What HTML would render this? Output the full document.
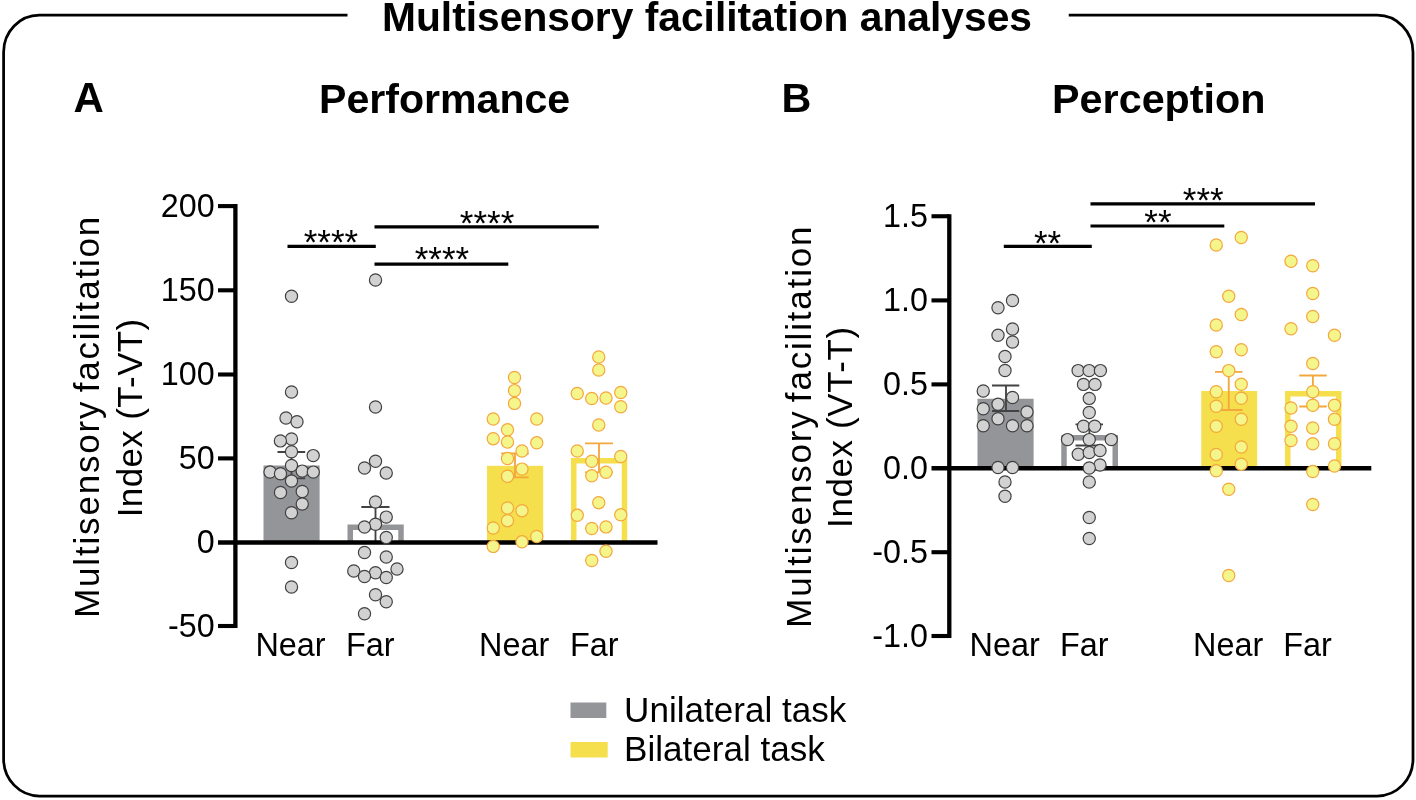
<!DOCTYPE html>
<html lang="en"><head><meta charset="utf-8"><title>Multisensory facilitation analyses</title>
<style>html,body{margin:0;padding:0;background:#fff}body{width:1416px;height:800px;overflow:hidden}svg{display:block;will-change:transform}text{font-family:'Liberation Sans', Arial, Helvetica, sans-serif;fill:#000}</style></head><body>
<svg width="1416" height="800" viewBox="0 0 1416 800">
<rect width="1416" height="800" fill="#fff"/>
<path d="M347.5 15.2 H39.4 A35.8 37.0 0 0 0 3.6 52.2 V759.0 A35.8 37.0 0 0 0 39.4 796.0 H1377.2 A35.8 37.0 0 0 0 1413.0 759.0 V52.2 A35.8 37.0 0 0 0 1377.2 15.2 H1068.75" fill="none" stroke="#000" stroke-width="2.75"/>
<text x="707.0" y="30.8" font-size="40.75" font-weight="bold" text-anchor="middle" >Multisensory facilitation analyses</text>
<text x="88.6" y="112.0" font-size="42" font-weight="bold" text-anchor="middle" >A</text>
<text x="796.4" y="111.6" font-size="41.3" font-weight="bold" text-anchor="middle" >B</text>
<text x="444.6" y="113" font-size="41.1" font-weight="bold" text-anchor="middle" >Performance</text>
<text x="1158.8" y="113" font-size="41.3" font-weight="bold" text-anchor="middle" >Perception</text>
<rect x="263.5" y="465.5" width="56.10" height="77.00" fill="#939598"/>
<path d="M350.25 542.5 V527.25 H401.0 V542.5" fill="none" stroke="#939598" stroke-width="5.5" stroke-linejoin="miter"/>
<rect x="487" y="465.8" width="56.20" height="76.70" fill="#f5df4d"/>
<path d="M573.75 542.5 V460.75 H624.5 V542.5" fill="none" stroke="#f5df4d" stroke-width="5.5" stroke-linejoin="miter"/>
<path d="M291.5 452 V478.4 M277.5 452 H305.2 M277.5 478.4 H305.2" fill="none" stroke="#434344" stroke-width="1.85"/>
<path d="M375.5 507 V542 M361.3 507 H389.5 M361.3 542 H389.5" fill="none" stroke="#434344" stroke-width="1.85"/>
<path d="M515 453.5 V477.4 M501.25 453.5 H528.75 M501.25 477.4 H528.75" fill="none" stroke="#f4a73c" stroke-width="1.85"/>
<path d="M599 443.3 V472.3 M585 443.3 H613 M585 472.3 H613" fill="none" stroke="#f4a73c" stroke-width="1.85"/>
<path d="M235.4 204.1 V628.1" stroke="#000" stroke-width="4.3" fill="none"/>
<path d="M218 206.1 H235.4" stroke="#000" stroke-width="4.1" fill="none"/>
<text x="214.7" y="216.9" font-size="32.3" font-weight="normal" text-anchor="end" >200</text>
<path d="M218 290.3 H235.4" stroke="#000" stroke-width="4.1" fill="none"/>
<text x="214.7" y="301.1" font-size="32.3" font-weight="normal" text-anchor="end" >150</text>
<path d="M218 374.5 H235.4" stroke="#000" stroke-width="4.1" fill="none"/>
<text x="214.7" y="385.3" font-size="32.3" font-weight="normal" text-anchor="end" >100</text>
<path d="M218 458.4 H235.4" stroke="#000" stroke-width="4.1" fill="none"/>
<text x="214.7" y="469.2" font-size="32.3" font-weight="normal" text-anchor="end" >50</text>
<text x="214.7" y="553.3" font-size="32.3" font-weight="normal" text-anchor="end" >0</text>
<path d="M218 626.0 H235.4" stroke="#000" stroke-width="4.1" fill="none"/>
<text x="214.7" y="636.8" font-size="32.3" font-weight="normal" text-anchor="end" >-50</text>
<path d="M218 542.5 H657.5" stroke="#000" stroke-width="4.7" fill="none"/>
<g fill="#d1d2d1" stroke="#404041" stroke-width="1.2">
<circle cx="291.5" cy="296.25" r="6.1"/>
<circle cx="291.5" cy="392" r="6.1"/>
<circle cx="286" cy="418" r="6.1"/>
<circle cx="297" cy="421.75" r="6.1"/>
<circle cx="291.5" cy="439" r="6.1"/>
<circle cx="280.4" cy="440.9" r="6.1"/>
<circle cx="291.5" cy="451.75" r="6.1"/>
<circle cx="313.2" cy="455.6" r="6.1"/>
<circle cx="291.5" cy="465.5" r="6.1"/>
<circle cx="270" cy="472" r="6.1"/>
<circle cx="280.5" cy="473.75" r="6.1"/>
<circle cx="302.2" cy="471.1" r="6.1"/>
<circle cx="313.3" cy="472.1" r="6.1"/>
<circle cx="291.5" cy="481" r="6.1"/>
<circle cx="280.5" cy="492.5" r="6.1"/>
<circle cx="302.25" cy="491.5" r="6.1"/>
<circle cx="302.25" cy="504" r="6.1"/>
<circle cx="291.5" cy="512.75" r="6.1"/>
<circle cx="291.5" cy="562.5" r="6.1"/>
<circle cx="291.5" cy="587" r="6.1"/>
</g>
<g fill="#d1d2d1" stroke="#404041" stroke-width="1.2">
<circle cx="375.5" cy="280" r="6.1"/>
<circle cx="375.5" cy="407" r="6.1"/>
<circle cx="375.5" cy="461.25" r="6.1"/>
<circle cx="364.5" cy="468" r="6.1"/>
<circle cx="386.25" cy="473" r="6.1"/>
<circle cx="375.5" cy="502" r="6.1"/>
<circle cx="386.25" cy="517.1" r="6.1"/>
<circle cx="375.5" cy="524.25" r="6.1"/>
<circle cx="364.5" cy="527" r="6.1"/>
<circle cx="386.25" cy="537.5" r="6.1"/>
<circle cx="364.5" cy="552.5" r="6.1"/>
<circle cx="386.25" cy="557" r="6.1"/>
<circle cx="397" cy="569" r="6.1"/>
<circle cx="353.75" cy="571" r="6.1"/>
<circle cx="375.5" cy="572.75" r="6.1"/>
<circle cx="364.5" cy="576.5" r="6.1"/>
<circle cx="386.25" cy="577.5" r="6.1"/>
<circle cx="375.5" cy="594.75" r="6.1"/>
<circle cx="386.25" cy="601.75" r="6.1"/>
<circle cx="364.5" cy="613.75" r="6.1"/>
</g>
<g fill="#f4f58b" stroke="#f4a73c" stroke-width="1.2">
<circle cx="514.5" cy="377.5" r="6.1"/>
<circle cx="514.5" cy="390.6" r="6.1"/>
<circle cx="514.5" cy="403.4" r="6.1"/>
<circle cx="493.25" cy="419" r="6.1"/>
<circle cx="536.75" cy="419" r="6.1"/>
<circle cx="507.5" cy="429.8" r="6.1"/>
<circle cx="493.25" cy="438.7" r="6.1"/>
<circle cx="507.5" cy="442" r="6.1"/>
<circle cx="536.75" cy="442.8" r="6.1"/>
<circle cx="522" cy="451" r="6.1"/>
<circle cx="507.5" cy="458.5" r="6.1"/>
<circle cx="522" cy="469.1" r="6.1"/>
<circle cx="507.5" cy="476.25" r="6.1"/>
<circle cx="507.5" cy="508" r="6.1"/>
<circle cx="522" cy="510.7" r="6.1"/>
<circle cx="507.5" cy="520.7" r="6.1"/>
<circle cx="493.25" cy="528" r="6.1"/>
<circle cx="536.75" cy="536.5" r="6.1"/>
<circle cx="522" cy="541.8" r="6.1"/>
<circle cx="493.25" cy="546.4" r="6.1"/>
</g>
<g fill="#f4f58b" stroke="#f4a73c" stroke-width="1.2">
<circle cx="598.75" cy="357" r="6.1"/>
<circle cx="598.75" cy="370" r="6.1"/>
<circle cx="577.25" cy="393.5" r="6.1"/>
<circle cx="620.75" cy="392.5" r="6.1"/>
<circle cx="591.75" cy="398.5" r="6.1"/>
<circle cx="606" cy="398" r="6.1"/>
<circle cx="620.75" cy="406.75" r="6.1"/>
<circle cx="598.75" cy="425" r="6.1"/>
<circle cx="577.25" cy="451" r="6.1"/>
<circle cx="620.75" cy="456.5" r="6.1"/>
<circle cx="591.75" cy="461.25" r="6.1"/>
<circle cx="606" cy="472.25" r="6.1"/>
<circle cx="591.75" cy="475.75" r="6.1"/>
<circle cx="598.75" cy="502.7" r="6.1"/>
<circle cx="577.25" cy="515.3" r="6.1"/>
<circle cx="620.75" cy="514.8" r="6.1"/>
<circle cx="591.75" cy="528.5" r="6.1"/>
<circle cx="606" cy="526.9" r="6.1"/>
<circle cx="606" cy="551.25" r="6.1"/>
<circle cx="591.75" cy="560.5" r="6.1"/>
</g>
<g stroke="#000" stroke-width="3.2" fill="none">
<path d="M287.5 246.3 H375.8"/><path d="M374.5 226.9 H598.8"/><path d="M374.5 264.1 H508.3"/>
</g>
<text x="331" y="254.2" font-size="35" font-weight="normal" text-anchor="middle" >****</text>
<text x="487.1" y="234.7" font-size="35" font-weight="normal" text-anchor="middle" >****</text>
<text x="441.9" y="271.4" font-size="35" font-weight="normal" text-anchor="middle" >****</text>
<text x="290.5" y="655.6" font-size="32.4" font-weight="normal" text-anchor="middle" >Near</text>
<text x="370.3" y="655.6" font-size="32.4" font-weight="normal" text-anchor="middle" >Far</text>
<text x="514.1" y="655.6" font-size="32.4" font-weight="normal" text-anchor="middle" >Near</text>
<text x="594.3" y="655.6" font-size="32.4" font-weight="normal" text-anchor="middle" >Far</text>
<text transform="translate(99 617.85) rotate(-90)" font-size="34.9" letter-spacing="1.86" word-spacing="-4.2">Multisensory facilitation</text>
<text transform="translate(141.8 517.3) rotate(-90)" font-size="34.9" letter-spacing="0.42">Index (T-VT)</text>
<rect x="977.5" y="398.75" width="56.10" height="69.50" fill="#939598"/>
<path d="M1064.0 468.25 V437.75 H1115.25 V468.25" fill="none" stroke="#939598" stroke-width="5.5" stroke-linejoin="miter"/>
<rect x="1201.25" y="391" width="55.95" height="77.25" fill="#f5df4d"/>
<path d="M1287.75 468.25 V393.75 H1338.75 V468.25" fill="none" stroke="#f5df4d" stroke-width="5.5" stroke-linejoin="miter"/>
<path d="M1006 385.5 V411 M992 385.5 H1019.3 M992 411 H1019.3" fill="none" stroke="#434344" stroke-width="1.85"/>
<path d="M1089.4 424.3 V445.5 M1075.5 424.3 H1103 M1075.5 445.5 H1103" fill="none" stroke="#434344" stroke-width="1.85"/>
<path d="M1228.75 371.8 V410 M1215 371.8 H1242.5 M1215 410 H1242.5" fill="none" stroke="#f4a73c" stroke-width="1.85"/>
<path d="M1312.9 375.5 V406.5 M1299.25 375.5 H1326.75 M1299.25 406.5 H1326.75" fill="none" stroke="#f4a73c" stroke-width="1.85"/>
<path d="M949.3 214.2 V638.1" stroke="#000" stroke-width="4.3" fill="none"/>
<path d="M931.5 216.25 H949.3" stroke="#000" stroke-width="4.1" fill="none"/>
<text x="927.9" y="226.75" font-size="32.3" font-weight="normal" text-anchor="end" >1.5</text>
<path d="M931.5 300.4 H949.3" stroke="#000" stroke-width="4.1" fill="none"/>
<text x="927.9" y="310.9" font-size="32.3" font-weight="normal" text-anchor="end" >1.0</text>
<path d="M931.5 384.4 H949.3" stroke="#000" stroke-width="4.1" fill="none"/>
<text x="927.9" y="394.9" font-size="32.3" font-weight="normal" text-anchor="end" >0.5</text>
<text x="927.9" y="478.75" font-size="32.3" font-weight="normal" text-anchor="end" >0.0</text>
<path d="M931.5 552.2 H949.3" stroke="#000" stroke-width="4.1" fill="none"/>
<text x="927.9" y="562.7" font-size="32.3" font-weight="normal" text-anchor="end" >-0.5</text>
<path d="M931.5 636.0 H949.3" stroke="#000" stroke-width="4.1" fill="none"/>
<text x="927.9" y="646.5" font-size="32.3" font-weight="normal" text-anchor="end" >-1.0</text>
<path d="M931.5 468.25 H1371.3" stroke="#000" stroke-width="4.7" fill="none"/>
<g fill="#d1d2d1" stroke="#404041" stroke-width="1.2">
<circle cx="1012.5" cy="300.5" r="6.1"/>
<circle cx="998" cy="307.75" r="6.1"/>
<circle cx="1012.5" cy="329" r="6.1"/>
<circle cx="998" cy="335.25" r="6.1"/>
<circle cx="1012.5" cy="342" r="6.1"/>
<circle cx="1005" cy="356.5" r="6.1"/>
<circle cx="1005" cy="370.5" r="6.1"/>
<circle cx="983.25" cy="391" r="6.1"/>
<circle cx="1012.5" cy="397.5" r="6.1"/>
<circle cx="998" cy="404.25" r="6.1"/>
<circle cx="983.25" cy="408.75" r="6.1"/>
<circle cx="1027" cy="412" r="6.1"/>
<circle cx="998" cy="418.75" r="6.1"/>
<circle cx="983.25" cy="425.75" r="6.1"/>
<circle cx="1012.5" cy="425.75" r="6.1"/>
<circle cx="1027" cy="425.75" r="6.1"/>
<circle cx="998" cy="467.5" r="6.1"/>
<circle cx="1012.5" cy="467.5" r="6.1"/>
<circle cx="1005" cy="482" r="6.1"/>
<circle cx="1005" cy="496.25" r="6.1"/>
</g>
<g fill="#d1d2d1" stroke="#404041" stroke-width="1.2">
<circle cx="1078.1" cy="370.6" r="6.1"/>
<circle cx="1089.1" cy="370.6" r="6.1"/>
<circle cx="1100.4" cy="370.6" r="6.1"/>
<circle cx="1083.5" cy="384.4" r="6.1"/>
<circle cx="1095" cy="384.4" r="6.1"/>
<circle cx="1089.25" cy="398.4" r="6.1"/>
<circle cx="1089.25" cy="412.5" r="6.1"/>
<circle cx="1083.5" cy="426.25" r="6.1"/>
<circle cx="1094.75" cy="426.25" r="6.1"/>
<circle cx="1067.5" cy="439.6" r="6.1"/>
<circle cx="1089.25" cy="439.6" r="6.1"/>
<circle cx="1111.25" cy="439.6" r="6.1"/>
<circle cx="1078.25" cy="454.25" r="6.1"/>
<circle cx="1089.25" cy="452.5" r="6.1"/>
<circle cx="1100" cy="450.5" r="6.1"/>
<circle cx="1100" cy="465" r="6.1"/>
<circle cx="1089.25" cy="468" r="6.1"/>
<circle cx="1089.25" cy="482" r="6.1"/>
<circle cx="1089.25" cy="517.5" r="6.1"/>
<circle cx="1089.25" cy="538.5" r="6.1"/>
</g>
<g fill="#f4f58b" stroke="#f4a73c" stroke-width="1.2">
<circle cx="1241.25" cy="237.5" r="6.1"/>
<circle cx="1216.25" cy="245" r="6.1"/>
<circle cx="1228.75" cy="296.25" r="6.1"/>
<circle cx="1241.25" cy="314.5" r="6.1"/>
<circle cx="1216.25" cy="325" r="6.1"/>
<circle cx="1241.25" cy="349.75" r="6.1"/>
<circle cx="1216.25" cy="351.75" r="6.1"/>
<circle cx="1228.75" cy="370.6" r="6.1"/>
<circle cx="1241.25" cy="384.25" r="6.1"/>
<circle cx="1216.25" cy="391.75" r="6.1"/>
<circle cx="1241.25" cy="398.25" r="6.1"/>
<circle cx="1216.25" cy="406.25" r="6.1"/>
<circle cx="1241.25" cy="419.25" r="6.1"/>
<circle cx="1216.25" cy="426.25" r="6.1"/>
<circle cx="1241.25" cy="447" r="6.1"/>
<circle cx="1216.25" cy="454.5" r="6.1"/>
<circle cx="1241.25" cy="464.25" r="6.1"/>
<circle cx="1216.25" cy="470.75" r="6.1"/>
<circle cx="1228.75" cy="489.25" r="6.1"/>
<circle cx="1228.75" cy="575.5" r="6.1"/>
</g>
<g fill="#f4f58b" stroke="#f4a73c" stroke-width="1.2">
<circle cx="1291" cy="261.25" r="6.1"/>
<circle cx="1312.75" cy="265.75" r="6.1"/>
<circle cx="1312.75" cy="293.5" r="6.1"/>
<circle cx="1312.75" cy="316.5" r="6.1"/>
<circle cx="1291" cy="328.75" r="6.1"/>
<circle cx="1334.5" cy="335.25" r="6.1"/>
<circle cx="1312.75" cy="363.5" r="6.1"/>
<circle cx="1312.75" cy="391.75" r="6.1"/>
<circle cx="1312.75" cy="405.25" r="6.1"/>
<circle cx="1291" cy="408" r="6.1"/>
<circle cx="1334.5" cy="405.25" r="6.1"/>
<circle cx="1334.5" cy="419.25" r="6.1"/>
<circle cx="1291" cy="426.25" r="6.1"/>
<circle cx="1312.75" cy="428" r="6.1"/>
<circle cx="1291" cy="440.5" r="6.1"/>
<circle cx="1312.75" cy="443.75" r="6.1"/>
<circle cx="1334.5" cy="443.75" r="6.1"/>
<circle cx="1334.5" cy="466" r="6.1"/>
<circle cx="1312.75" cy="471.5" r="6.1"/>
<circle cx="1312.75" cy="504.5" r="6.1"/>
</g>
<g stroke="#000" stroke-width="3.2" fill="none">
<path d="M1003.8 246.4 H1091.8"/><path d="M1090.5 203.9 H1315"/><path d="M1090.5 226 H1224.3"/>
</g>
<text x="1047.6" y="255.1" font-size="35" font-weight="normal" text-anchor="middle" >**</text>
<text x="1203.3" y="211.6" font-size="35" font-weight="normal" text-anchor="middle" >***</text>
<text x="1157.9" y="233.9" font-size="35" font-weight="normal" text-anchor="middle" >**</text>
<text x="1004.7" y="655.7" font-size="32.4" font-weight="normal" text-anchor="middle" >Near</text>
<text x="1084.3" y="655.7" font-size="32.4" font-weight="normal" text-anchor="middle" >Far</text>
<text x="1228.2" y="655.7" font-size="32.4" font-weight="normal" text-anchor="middle" >Near</text>
<text x="1307.6" y="655.7" font-size="32.4" font-weight="normal" text-anchor="middle" >Far</text>
<text transform="translate(811.2 627.65) rotate(-90)" font-size="34.9" letter-spacing="1.86" word-spacing="-4.2">Multisensory facilitation</text>
<text transform="translate(852.3 527.9) rotate(-90)" font-size="34.9" letter-spacing="0.65">Index (VT-T)</text>
<rect x="570.5" y="702.5" width="35.8" height="15.5" fill="#939598"/>
<rect x="570.5" y="742" width="37.2" height="15.5" fill="#f5df4d"/>
<text x="624.1" y="722" font-size="35.1" font-weight="normal" text-anchor="start" >Unilateral task</text>
<text x="624.1" y="761.3" font-size="35.1" font-weight="normal" text-anchor="start" >Bilateral task</text>
</svg></body></html>
